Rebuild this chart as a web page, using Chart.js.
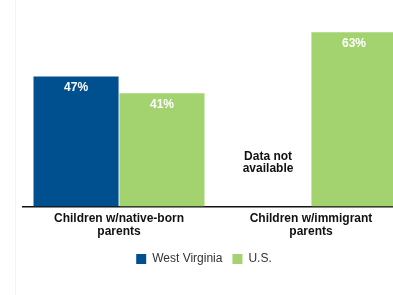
<!DOCTYPE html>
<html>
<head>
<script src="https://cdn.jsdelivr.net/npm/chart.js"></script>
<style>
  html, body { margin: 0; padding: 0; background: #fff; overflow: hidden; }
  #wrap { position: relative; width: 416px; height: 295px; }
  #edge { position: absolute; left: 15px; top: 0; width: 1px; height: 295px; background: #f3f3f3; }
</style>
</head>
<body>
<div id="wrap">
  <div id="edge"></div>
  <canvas id="c" width="416" height="295"></canvas>
</div>
<script>
const categories = [["Children w/native-born", "parents"], ["Children w/immigrant", "parents"]];
const westVirginia = [47, null];
const us = [41, 63];
const seriesNames = ["West Virginia", "U.S."];
const missingText = ["Data not", "available"];

const BLUE = "#00508f";
const GREEN = "#a3d36f";
const FONT = "'Liberation Sans Narrow', 'Arial Narrow', sans-serif";

// value labels inside bars + "data not available" note
const barLabels = {
  id: "barLabels",
  afterLayout(chart) {
    // canvas is wider than the window, pull legend back to visible centre
    chart.legend.right -= 22;
  },
  afterDatasetsDraw(chart) {
    const ctx = chart.ctx;
    ctx.save();
    ctx.textAlign = "center";
    ctx.textBaseline = "middle";
    chart.data.datasets.forEach((ds, di) => {
      const meta = chart.getDatasetMeta(di);
      meta.data.forEach((bar, i) => {
        const v = ds.data[i];
        if (v === null) {
          ctx.fillStyle = "#111";
          ctx.font = "bold 12px " + FONT;
          const base = chart.scales.y.getPixelForValue(0);
          ctx.fillText(missingText[0], bar.x, base - 50);
          ctx.fillText(missingText[1], bar.x, base - 38);
          return;
        }
        ctx.fillStyle = "#fff";
        ctx.font = "bold 12px " + FONT;
        ctx.fillText(v + "%", bar.x, bar.y + 11);
      });
    });
    ctx.restore();
  }
};

new Chart(document.getElementById("c"), {
  type: "bar",
  data: {
    labels: categories,
    datasets: [
      { label: seriesNames[0], data: westVirginia, backgroundColor: BLUE },
      { label: seriesNames[1], data: us, backgroundColor: GREEN }
    ]
  },
  options: {
    responsive: false,
    animation: false,
    devicePixelRatio: 1,
    categoryPercentage: 0.895,
    barPercentage: 0.99,
    layout: { padding: { left: 23, right: 9, top: 13, bottom: 20 } },
    scales: {
      x: {
        grid: { display: false, drawTicks: false },
        border: { display: true, color: "#111", width: 1.5 },
        ticks: {
          color: "#111",
          padding: 5,
          font: { family: FONT, size: 12, weight: "bold", lineHeight: 1.1 }
        }
      },
      y: {
        display: false,
        min: 0,
        max: 70
      }
    },
    plugins: {
      legend: {
        position: "bottom",
        labels: {
          boxWidth: 10,
          boxHeight: 10,
          padding: 10,
          color: "#333",
          font: { family: FONT, size: 12 }
        }
      },
      tooltip: { enabled: false }
    }
  },
  plugins: [barLabels]
});
</script>
</body>
</html>
